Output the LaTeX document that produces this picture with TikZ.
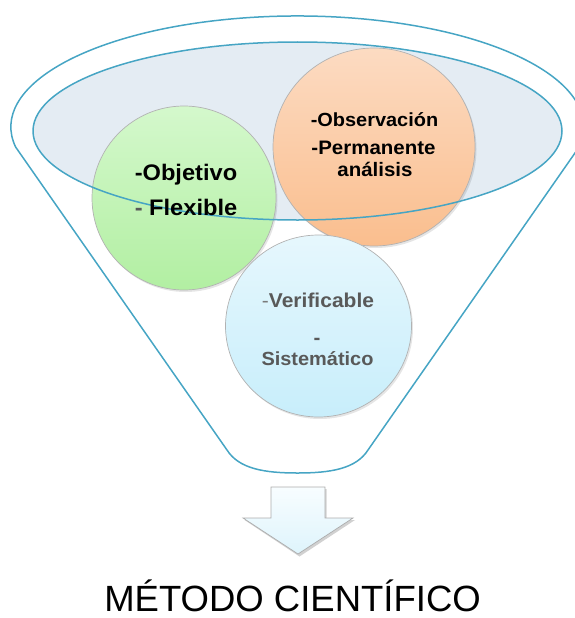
\documentclass[tikz,border=0pt]{standalone}
\usepackage{fontspec}
\setmainfont{Liberation Sans}
\newfontfamily\cfont[FakeStretch=1.05]{Liberation Sans}
\definecolor{funnel}{RGB}{70,165,196}
\definecolor{ellfill}{RGB}{228,236,243}
\definecolor{gtop}{RGB}{212,248,204}
\definecolor{gbot}{RGB}{178,239,162}
\definecolor{otop}{RGB}{252,219,194}
\definecolor{obot}{RGB}{250,190,142}
\definecolor{btop}{RGB}{230,247,253}
\definecolor{bbot}{RGB}{200,238,251}
\definecolor{atop}{RGB}{248,253,255}
\definecolor{abot}{RGB}{222,244,252}
\definecolor{graytext}{RGB}{89,89,89}
\tikzset{
  outline/.style={draw=funnel, line width=1.5pt, line join=round},
  bubble/.style={draw=gray!60, line width=0.7pt},
  softshadow/.style={fill=black, opacity=0.10},
  txt/.style={inner sep=0pt, anchor=base, font=\cfont\bfseries},
}
\begin{document}
\begin{tikzpicture}[x=1pt,y=1pt]
\useasboundingbox (0,0) rectangle (574,-618);

% funnel outline
\draw[outline] (15.6,-147) arc[start angle=190.4, end angle=-10.4, x radius=286.5pt, y radius=111pt]
  -- (368,-450) .. controls (356,-469) and (330,-473) .. (297.5,-473)
  .. controls (265,-473) and (239,-469) .. (227,-450) -- cycle;

% inner ellipse fill
\fill[ellfill] (297.5,-131) ellipse[x radius=264.5pt, y radius=89pt];

% green bubble
\fill[softshadow] (185.5,-200) circle[radius=92pt];
\shadedraw[bubble, top color=gtop, bottom color=gbot] (184,-198) circle[radius=92pt];
% orange bubble
\fill[softshadow] (375.5,-149) ellipse[x radius=101pt, y radius=99pt];
\shadedraw[bubble, top color=otop, bottom color=obot] (374,-147) ellipse[x radius=101pt, y radius=99pt];
% blue bubble
\fill[softshadow] (320,-328) ellipse[x radius=93pt, y radius=91pt];
\shadedraw[bubble, top color=btop, bottom color=bbot] (318.5,-326) ellipse[x radius=93pt, y radius=91pt];

% inner ellipse outline on top
\draw[outline] (297.5,-131) ellipse[x radius=264.5pt, y radius=89pt];

% texts
\node[txt] (obj) at (186,-180) {\fontsize{22.5}{24}\selectfont -Objetivo};
\node[txt] (flex) at (186,-215) {\fontsize{22.5}{24}\selectfont \textcolor{graytext}{- }Flexible};
\node[txt] (obs) at (374.5,-126) {\fontsize{19}{21}\selectfont -Observación};
\node[txt] (perm) at (373.5,-154) {\fontsize{19.5}{21}\selectfont -Permanente};
\node[txt] (anal) at (375,-176) {\fontsize{19.5}{21}\selectfont análisis};
\node[txt, text=graytext] (verif) at (318,-307) {\fontsize{20}{22}\selectfont \textcolor{graytext!80}{\mdseries -}Verificable};
\node[txt, text=graytext] (dash) at (317,-344) {\fontsize{19.5}{21}\selectfont -};
\node[txt, text=graytext] (sist) at (317.5,-365) {\fontsize{19}{21}\selectfont Sistemático};

% down arrow
\fill[softshadow, opacity=0.18] (272.5,-489) -- (326.5,-489) -- (326.5,-520) -- (355,-520) -- (299.5,-556.5) -- (244.5,-520) -- (272.5,-520) -- cycle;
\shadedraw[draw=gray!65, line width=0.7pt, top color=atop, bottom color=abot, line join=miter]
  (271,-487) -- (325,-487) -- (325,-518) -- (353,-518) -- (298,-554) -- (243,-518) -- (271,-518) -- cycle;

% title
\node[inner sep=0pt, anchor=base, font=\fontsize{36.5}{40}\selectfont] (title) at (292.5,-611) {MÉTODO CIENTÍFICO};
\end{tikzpicture}
\end{document}
